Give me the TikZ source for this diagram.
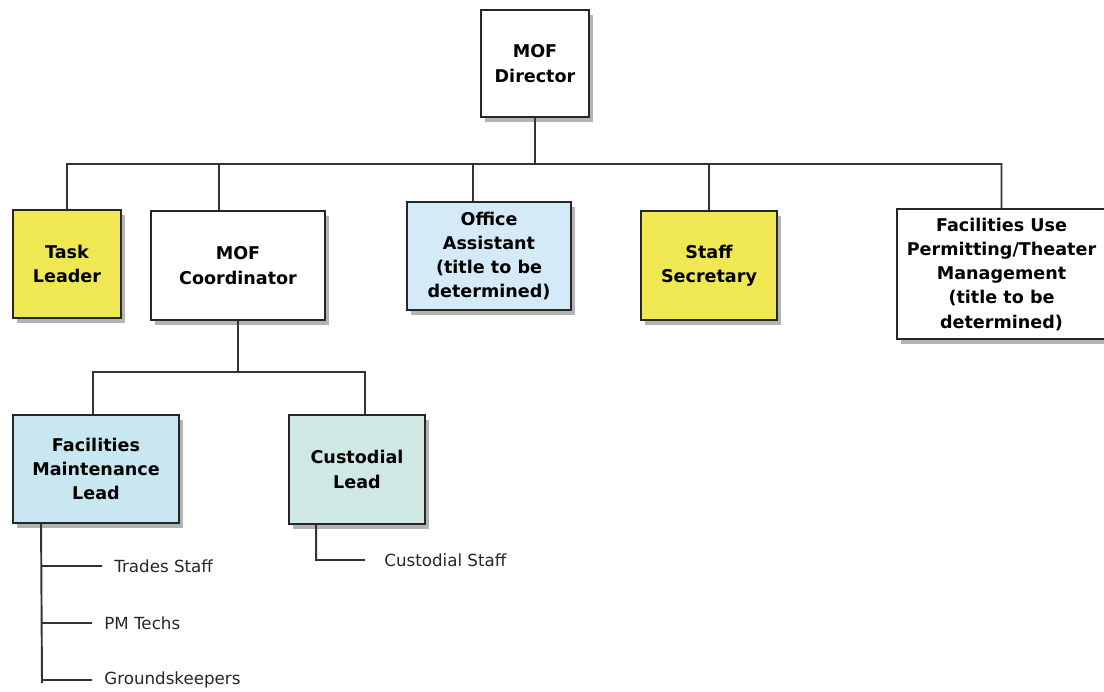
\documentclass[tikz,border=0pt]{standalone}
\usepackage{fontspec}
\setmainfont{DejaVu Sans}
\usetikzlibrary{shadows,positioning}
\definecolor{postyellow}{HTML}{EFE852}
\definecolor{postblue}{HTML}{D4EAF7}
\definecolor{maintblue}{HTML}{C8E7F0}
\definecolor{custgreen}{HTML}{CFE8E3}

\begin{document}
\begin{tikzpicture}[x=0.02cm,y=-0.02cm]
    \tikzstyle{post}=[draw=black!85,line width=1.1pt,fill=white,align=center,inner sep=2pt,
      font=\bfseries\fontsize{10}{13.8}\selectfont,
      drop shadow={shadow xshift=2.5pt,shadow yshift=-3pt,opacity=0.6}]
    \tikzstyle{staff}=[anchor=west,inner xsep=0.24cm,font=\fontsize{9.5}{11}\selectfont,text=black!85]
    \tikzstyle{link}=[draw=black!80,line width=1.1pt]

    \useasboundingbox (0,0) rectangle (1104,691);

    \node[post,minimum width=2.16cm,minimum height=2.14cm] (dir) at (535,63.5) {MOF\\Director};

    \node[post,fill=postyellow,minimum width=2.16cm,minimum height=2.16cm] (tl) at (67,264) {Task\\Leader};
    \node[post,minimum width=3.48cm,minimum height=2.18cm] (mc) at (238,265.5) {MOF\\Coordinator};
    \node[post,fill=postblue,minimum width=3.28cm,minimum height=2.16cm] (oa) at (489,256) {Office\\Assistant\\(title to be\\determined)};
    \node[post,fill=postyellow,minimum width=2.72cm,minimum height=2.18cm] (ss) at (709,265.5) {Staff\\Secretary};
    \node[post,minimum width=4.18cm,minimum height=2.6cm] (fu) at (1001.5,274) {Facilities Use\\Permitting/Theater\\Management\\(title to be\\determined)};

    \node[post,fill=maintblue,minimum width=3.32cm,minimum height=2.16cm] (fml) at (96,469) {Facilities\\Maintenance\\Lead};
    \node[post,fill=custgreen,minimum width=2.72cm,minimum height=2.18cm] (cl) at (357,469.5) {Custodial\\Lead};

    \node[staff] (ts) at (102,566) {Trades Staff};
    \node[staff] (pm) at (92,623) {PM Techs};
    \node[staff] (gk) at (92,680) {Groundskeepers};
    \node[staff,inner xsep=0.38cm] (cs) at (365,560) {Custodial Staff};

    \coordinate (bus) at (536,164);
    \coordinate (bus2) at (239,372);
    \coordinate (fmlEnd) at (42,683);

    \path[link]
    (dir.south) -- (dir.south |- bus)
    (tl.north) -- (tl.north |- bus) -- (fu.north |- bus) -- (fu.north)
    ([xshift=-0.38cm]mc.north) -- ([xshift=-0.38cm]mc.north |- bus)
    ([xshift=-0.32cm]oa.north) -- ([xshift=-0.32cm]oa.north |- bus)
    (ss.north) -- (ss.north |- bus)
    (mc.south) -- (mc.south |- bus2)
    ([xshift=-0.06cm]fml.north) -- ([xshift=-0.06cm]fml.north |- bus2) -- ([xshift=0.16cm]cl.north |- bus2) -- ([xshift=0.16cm]cl.north)
    ([xshift=0.58cm]fml.south west) -- (fmlEnd)
    (ts.west -| fmlEnd) -- (ts.west)
    (pm.west -| fmlEnd) -- (pm.west)
    (gk.west -| fmlEnd) -- (gk.west)
    ([xshift=0.56cm]cl.south west) -- ([xshift=0.56cm]cl.south west |- cs.west) -- (cs.west)
    ;

\end{tikzpicture}
\end{document}
